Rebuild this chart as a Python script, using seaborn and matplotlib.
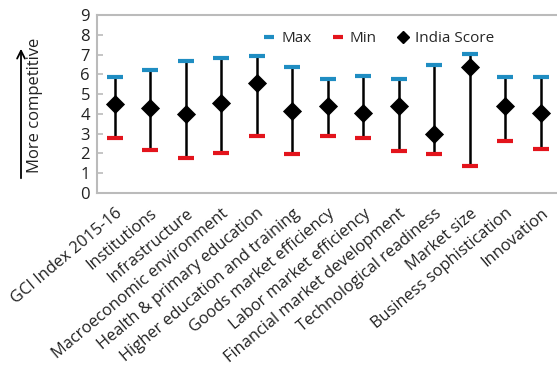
import numpy as np
import pandas as pd
import matplotlib
matplotlib.use("Agg")
import matplotlib.pyplot as plt
import seaborn as sns
from matplotlib.lines import Line2D

# GCI 2015-16 pillars: India score against max / min across countries
categories = [
    "GCI Index 2015-16", "Institutions", "Infrastructure",
    "Macroeconomic environment", "Health & primary education",
    "Higher education and training", "Goods market efficiency",
    "Labor market efficiency", "Financial market development",
    "Technological readiness", "Market size", "Business sophistication",
    "Innovation",
]
max_vals = [5.84, 6.20, 6.68, 6.85, 6.94, 6.35, 5.77, 5.94, 5.77, 6.45, 7.02, 5.86, 5.86]
min_vals = [2.79, 2.19, 1.77, 2.02, 2.86, 1.95, 2.86, 2.79, 2.10, 1.95, 1.38, 2.61, 2.21]
india_score = [4.48, 4.31, 3.97, 4.53, 5.54, 4.16, 4.39, 4.06, 4.39, 2.98, 6.38, 4.39, 4.06]
y_ticks = list(range(0, 10))

BLUE = "#1F8DC2"
RED = "#E3141C"

df = pd.DataFrame({
    "category": categories,
    "max": max_vals,
    "min": min_vals,
    "score": india_score,
})

sns.set_theme(style="white")
plt.rcParams["font.family"] = ["Open Sans", "DejaVu Sans"]

fig = plt.figure(figsize=(5.57, 3.73), dpi=100)
ax = fig.add_axes([0.174, 0.4826, 0.829, 0.4772])

pos = np.arange(len(df))
# whiskers from min to max
ax.vlines(pos, df["min"], df["max"], color="black", lw=1.8, zorder=2)
ax.plot(pos, df["max"], ls="none", marker="_", ms=12, mew=3, color=BLUE, zorder=3)
ax.plot(pos, df["min"], ls="none", marker="_", ms=12, mew=3, color=RED, zorder=3)
sns.scatterplot(data=df, x="category", y="score", marker="D", color="black",
                s=95, edgecolor="black", linewidth=0, zorder=4, ax=ax)

ax.set_xlim(-0.5, len(df) - 0.5)
ax.set_ylim(0, 9)
ax.set_yticks(y_ticks)
ax.set_yticklabels([str(t) for t in y_ticks], fontsize=12, color="#222222")
ax.set_xticks(pos)
ax.set_xticklabels(categories, rotation=40, ha="right", rotation_mode="anchor",
                   fontsize=11.8, color="#222222")
ax.set_xlabel("")
ax.set_ylabel("")

# boundary ticks between categories, drawn inside
ax.set_xticks(np.arange(len(df) + 1) - 0.5, minor=True)
ax.tick_params(axis="x", which="major", length=0, pad=9)
ax.tick_params(axis="x", which="minor", direction="in", length=4, color="#BBBBBB", width=1.2)
ax.tick_params(axis="y", direction="in", length=4, color="#BBBBBB", width=1.2, pad=5, left=True)

for side in ["left", "bottom", "top"]:
    ax.spines[side].set_color("#BBBBBB")
    ax.spines[side].set_linewidth(1.5)
ax.spines["right"].set_visible(False)

handles = [
    Line2D([], [], ls="none", marker="_", ms=7, mew=3, color=BLUE),
    Line2D([], [], ls="none", marker="_", ms=7, mew=3, color=RED),
    Line2D([], [], ls="none", marker="D", ms=6, color="black"),
]
ax.legend(handles, ["Max", "Min", "India Score"], ncol=3, frameon=False,
          loc="upper left", bbox_to_anchor=(0.33, 0.985), fontsize=11,
          handlelength=0.8, handletextpad=0.4, columnspacing=1.3)

fig.text(35 / 557, 1 - 105 / 373, "More competitive", rotation=90,
         ha="center", va="center", fontsize=12, color="#222222")
ax.annotate("", xy=(21, 373 - 46), xytext=(21, 373 - 181),
            xycoords="figure pixels", textcoords="figure pixels",
            arrowprops=dict(arrowstyle="->", color="black", lw=1.3,
                            mutation_scale=14),
            annotation_clip=False)

fig.savefig("out.png", dpi=100)
